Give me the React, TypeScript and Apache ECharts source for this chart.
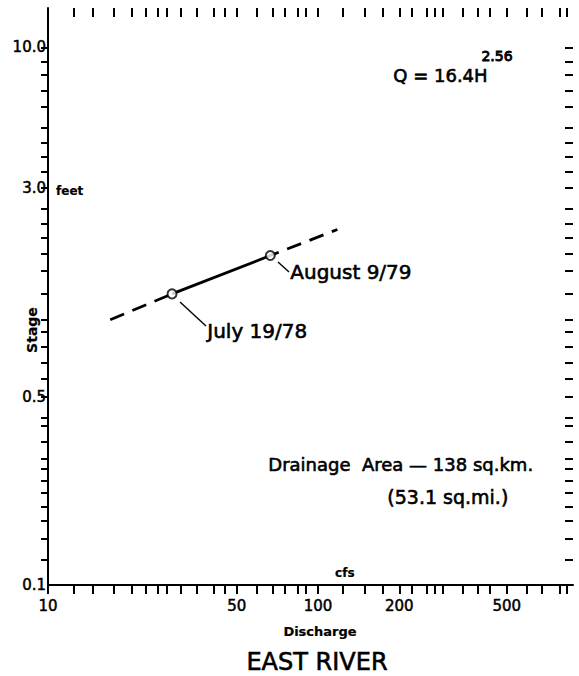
import React, { useEffect, useRef } from 'react';
import * as echarts from 'echarts';

// Discharge (cfs) axis
const dischargeMin = 10;
const dischargeMax = 880;
const dischargeLabels = [10, 50, 100, 200, 500];
const dischargeTicks = [10, 12.5, 14.7, 17.5, 20.5, 23, 25.5, 27.5, 31, 35.5, 41, 45, 50, 59.5, 68, 75.5, 84, 90, 100, 124, 149, 173, 200, 223, 253, 271, 290, 344, 392, 434, 500, 595, 675, 788, 836];

// Stage (feet) axis
const stageMin = 0.1;
const stageMax = 14;
const stageLabels = [0.1, 0.5, 3, 10];
const stageLabelText: Record<string, string> = { '0.1': '0.1', '0.5': '0.5', '3': '3.0', '10': '10.0' };
const stageTicks = [10, 8.8, 7.9, 6.9, 6.0, 5.0, 4.4, 3.9, 3.45, 3.0, 2.5, 2.2, 1.95, 1.7, 1.47, 1.21, 0.97, 0.875, 0.77, 0.67, 0.585, 0.5, 0.42, 0.39, 0.34, 0.295, 0.27, 0.245, 0.22, 0.195, 0.173, 0.148, 0.124];

// Measurements
const measuredDischarge = [28.8, 66.6];
const measuredStage = [1.21, 1.68];
const measuredDates = ['July 19/78', 'August 9/79'];

// Extended (dashed) rating curve, below and above the measured range
const lowDischarge = [17, 28.8];
const lowStage = [0.97, 1.21];
const highDischarge = [66.6, 118];
const highStage = [1.68, 2.1];

const FONT = 'DejaVu Sans';

export default function App() {
  const ref = useRef<HTMLDivElement>(null);
  useEffect(() => {
    if (!ref.current) return;
    const chart = echarts.init(ref.current, null, { renderer: 'svg' });
    const tickStyle = { color: '#000', width: 2 };
    const heavy = (size: number, weight = 'normal') => ({
      font: `${weight} ${size}px "${FONT}"`,
      fill: '#000',
      stroke: '#000',
      lineWidth: 0.6,
    });
    const labelCommon = {
      color: '#000',
      fontFamily: FONT,
      fontSize: 15,
      textBorderColor: '#000',
      textBorderWidth: 0.5,
    };
    const option: any = {
      animation: false,
      backgroundColor: '#fff',
      grid: { left: 48, top: 8, right: 6, bottom: 91 },
      xAxis: [
        {
          type: 'log',
          logBase: 10,
          min: dischargeMin,
          max: dischargeMax,
          position: 'bottom',
          axisLine: { show: true, lineStyle: { color: '#000', width: 2 } },
          axisTick: { show: true, inside: false, length: 9, lineStyle: tickStyle, customValues: dischargeTicks },
          axisLabel: {
            show: true,
            margin: 13,
            ...labelCommon,
            customValues: dischargeLabels,
            formatter: (v: number) => String(Math.round(v)),
          },
          splitLine: { show: false },
          minorTick: { show: false },
        },
        {
          type: 'log',
          logBase: 10,
          min: dischargeMin,
          max: dischargeMax,
          position: 'top',
          axisLine: { show: false },
          axisTick: { show: true, inside: true, length: 9, lineStyle: tickStyle, customValues: dischargeTicks.slice(1) },
          axisLabel: { show: false },
          splitLine: { show: false },
        },
      ],
      yAxis: [
        {
          type: 'log',
          logBase: 10,
          min: stageMin,
          max: stageMax,
          position: 'left',
          axisLine: { show: true, lineStyle: { color: '#000', width: 2 } },
          axisTick: { show: true, inside: false, length: 7, lineStyle: tickStyle, customValues: stageTicks },
          axisLabel: {
            show: true,
            margin: 2,
            ...labelCommon,
            customValues: stageLabels,
            formatter: (v: number) => stageLabelText[String(+v.toPrecision(3))] ?? String(v),
          },
          splitLine: { show: false },
          minorTick: { show: false },
        },
        {
          type: 'log',
          logBase: 10,
          min: stageMin,
          max: stageMax,
          position: 'right',
          axisLine: { show: false },
          axisTick: { show: true, inside: true, length: 8, lineStyle: tickStyle, customValues: stageTicks },
          axisLabel: { show: false },
          splitLine: { show: false },
        },
      ],
      series: [
        {
          type: 'line',
          data: lowDischarge.map((q, i) => [q, lowStage[i]]),
          symbol: 'none',
          lineStyle: { color: '#000', width: 2.8, type: [15, 9] },
          z: 2,
        },
        {
          type: 'line',
          data: highDischarge.map((q, i) => [q, highStage[i]]),
          symbol: 'none',
          lineStyle: { color: '#000', width: 2.8, type: [15, 9], dashOffset: 6 },
          z: 2,
        },
        {
          type: 'line',
          data: measuredDischarge.map((q, i) => [q, measuredStage[i]]),
          symbol: 'none',
          lineStyle: { color: '#000', width: 2.8 },
          z: 3,
        },
        {
          type: 'scatter',
          data: measuredDischarge.map((q, i) => ({ value: [q, measuredStage[i]], name: measuredDates[i] })),
          symbol: 'circle',
          symbolSize: 9,
          itemStyle: { color: '#fff', borderColor: '#000', borderWidth: 2 },
          z: 4,
        },
      ],
      graphic: [
        { type: 'text', left: 393, top: 66, style: { text: 'Q = 16.4H', ...heavy(18) } },
        { type: 'text', left: 481, top: 49, style: { text: '2.56', ...heavy(14), lineWidth: 0.9 } },
        { type: 'text', left: 56, top: 185, style: { text: 'feet', ...heavy(12, 'bold'), lineWidth: 0.2 } },
        { type: 'text', x: 32, y: 330, rotation: Math.PI / 2, style: { text: 'Stage', ...heavy(14, 'bold'), lineWidth: 0.2, align: 'center', verticalAlign: 'middle' } },
        { type: 'line', shape: { x1: 180, y1: 302, x2: 206, y2: 326 }, style: { stroke: '#000', lineWidth: 1.4 } },
        { type: 'text', left: 207, top: 321, style: { text: 'July 19/78', ...heavy(20) } },
        { type: 'line', shape: { x1: 278, y1: 262, x2: 289, y2: 272 }, style: { stroke: '#000', lineWidth: 1.4 } },
        { type: 'text', left: 290, top: 262, style: { text: 'August 9/79', ...heavy(20) } },
        { type: 'text', left: 268, top: 455, style: { text: 'Drainage  Area — 138 sq.km.', ...heavy(18) } },
        { type: 'text', left: 387, top: 487, style: { text: '(53.1 sq.mi.)', ...heavy(19) } },
        { type: 'text', left: 335, top: 567, style: { text: 'cfs', ...heavy(12, 'bold'), lineWidth: 0.2 } },
        { type: 'text', x: 320, y: 631, style: { text: 'Discharge', ...heavy(13, 'bold'), lineWidth: 0.2, align: 'center', verticalAlign: 'middle' } },
        { type: 'text', x: 317, y: 662, style: { text: 'EAST RIVER', ...heavy(24), align: 'center', verticalAlign: 'middle' } },
      ],
    };
    chart.setOption(option);
    return () => chart.dispose();
  }, []);
  return <div ref={ref} style={{ position: 'fixed', left: 0, top: 0, width: 579, height: 676 }} />;
}
